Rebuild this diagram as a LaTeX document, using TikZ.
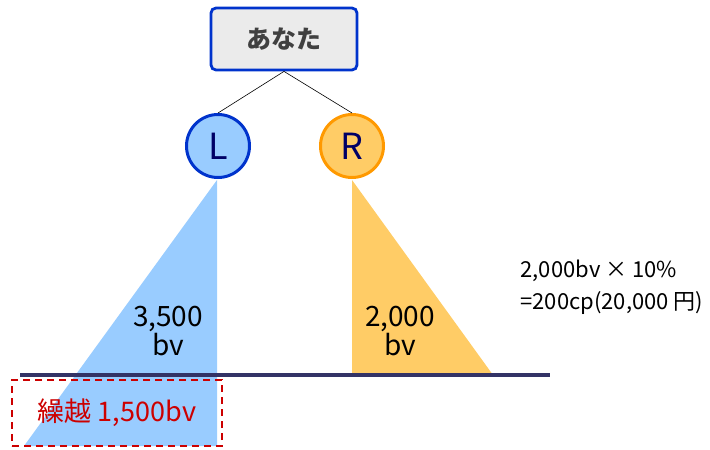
\documentclass[tikz,border=0pt]{standalone}
\usepackage{fontspec}
\setmainfont{Noto Sans CJK JP}
\definecolor{boxblue}{HTML}{0033CC}
\definecolor{boxgray}{HTML}{EBEBEB}
\definecolor{legblue}{HTML}{99CCFF}
\definecolor{legorange}{HTML}{FFCC66}
\definecolor{ringorange}{HTML}{FF9900}
\definecolor{navy}{HTML}{000066}
\definecolor{groundblue}{HTML}{333366}
\definecolor{carryred}{HTML}{CC0000}

\begin{document}
\begin{tikzpicture}[x=1pt, y=-1pt]
\tikzset{
  youbox/.style={draw=boxblue, line width=2.8pt, fill=boxgray, rounded corners=5pt,
    minimum width=146pt, minimum height=62pt, text=black!75, font=\fontsize{25}{28}\selectfont\bfseries},
  legnode/.style={circle, line width=3pt, minimum size=63pt, inner sep=0pt, text=navy,
    font=\fontsize{36}{40}\selectfont},
  volume/.style={align=center, font=\fontsize{28}{29}\selectfont}
}
\useasboundingbox (0,0) rectangle (710,450);

% Legs (volume triangles)
\fill[legblue] (217,180) -- (217,446) -- (24,446) -- cycle;
\fill[legorange] (352,180) -- (352,375) -- (493,375) -- cycle;

% Carry over box
\node[draw=carryred, dashed, line width=1.2pt, dash pattern=on 7pt off 5pt,
  minimum width=210pt, minimum height=66pt, text=carryred,
  font=\fontsize{27}{30}\selectfont] (carry) at (117,413) {繰越 1,500bv};

% Base line
\coordinate (baseL) at (20,375);
\coordinate (baseR) at (550,375);
\draw[groundblue, line width=4pt] (baseL) -- (baseR);

% Top node and legs
\node[youbox] (you) at (284,39) {あなた};
\node[legnode, draw=boxblue, fill=legblue] (left) at (218,146) {L};
\node[legnode, draw=ringorange, fill=legorange] (right) at (352,146) {R};
\draw[semithick] (you.south) -- (left.north);
\draw[semithick] (you.south) -- (right.north);

% Volumes
\node[volume] (lvol) at (168,331) {3,500\\bv};
\node[volume] (rvol) at (400,331) {2,000\\bv};

% Bonus note
\node[anchor=west, align=left, font=\fontsize{22}{32}\selectfont] (bonus) at (517,287)
  {2,000bv × 10\%\\=200cp(20,000 円)};

\end{tikzpicture}
\end{document}
